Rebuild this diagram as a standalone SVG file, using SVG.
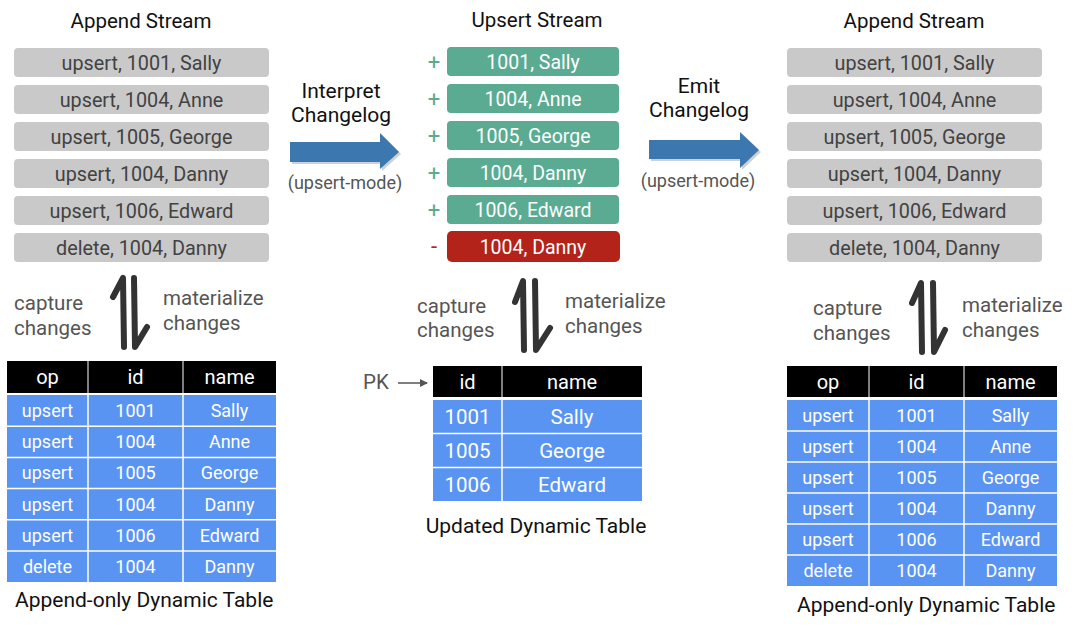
<svg xmlns="http://www.w3.org/2000/svg" width="1080" height="630" viewBox="0 0 1080 630">
<style>
text{font-family:Roboto,"Liberation Sans",sans-serif;}
.title{font-size:20.5px;fill:#111;text-anchor:middle;}
.gbox{fill:#c9c9c9;}
.gtxt{font-size:19.8px;fill:#424242;text-anchor:middle;}
.grn{fill:#5aab91;}
.red{fill:#b3231a;}
.wtxt{font-size:19.5px;fill:#fff;text-anchor:middle;}
.sign{font-size:22px;fill:#5aab91;text-anchor:middle;}
.lbl{font-size:21px;fill:#111;text-anchor:middle;}
.mode{font-size:18px;fill:#555;text-anchor:middle;}
.note{font-size:20.5px;fill:#555;}
.harp{fill:none;stroke:#333;stroke-width:6;stroke-linecap:round;stroke-linejoin:round;}
.hdr{fill:#000;}
.row{fill:#5a94f2;}
.div{stroke:#fff;stroke-width:1.5;}
.hdiv{stroke:#aaa;stroke-width:1.5;}
.htxt{font-size:20px;fill:#fff;text-anchor:middle;}
.ttxt{font-size:18px;fill:#fff;text-anchor:middle;}
.mtxt{font-size:20.5px;fill:#fff;text-anchor:middle;}
.cap{font-size:21px;fill:#111;}
.big{fill:#3d77b0;}
.shadow{fill:#9aa4b0;opacity:0.5;}
</style>
<defs>
<marker id="pkArrow" markerWidth="8" markerHeight="8" refX="7" refY="4" orient="auto" markerUnits="userSpaceOnUse">
<path d="M0,0 L8,4 L0,8 z" fill="#555"/>
</marker>
</defs>
<rect width="1080" height="630" fill="#fff"/>

<g id="left-stream">
<text class="title" x="141" y="28">Append Stream</text>
<rect class="gbox" x="14" y="48" width="255" height="29" rx="4"/>
<text class="gtxt" x="141.5" y="69.5">upsert, 1001, Sally</text>
<rect class="gbox" x="14" y="85" width="255" height="29" rx="4"/>
<text class="gtxt" x="141.5" y="106.5">upsert, 1004, Anne</text>
<rect class="gbox" x="14" y="122" width="255" height="29" rx="4"/>
<text class="gtxt" x="141.5" y="143.5">upsert, 1005, George</text>
<rect class="gbox" x="14" y="159" width="255" height="29" rx="4"/>
<text class="gtxt" x="141.5" y="180.5">upsert, 1004, Danny</text>
<rect class="gbox" x="14" y="196" width="255" height="29" rx="4"/>
<text class="gtxt" x="141.5" y="217.5">upsert, 1006, Edward</text>
<rect class="gbox" x="14" y="233" width="255" height="29" rx="4"/>
<text class="gtxt" x="141.5" y="254.5">delete, 1004, Danny</text>
</g>

<g id="upsert-stream">
<text class="title" x="537" y="27">Upsert Stream</text>
<text class="sign" x="434" y="70">+</text>
<rect class="grn" x="447" y="47" width="172" height="29" rx="4"/>
<text class="wtxt" x="533" y="69">1001, Sally</text>
<text class="sign" x="434" y="107">+</text>
<rect class="grn" x="447" y="84" width="172" height="29" rx="4"/>
<text class="wtxt" x="533" y="106">1004, Anne</text>
<text class="sign" x="434" y="144">+</text>
<rect class="grn" x="447" y="121" width="172" height="29" rx="4"/>
<text class="wtxt" x="533" y="143">1005, George</text>
<text class="sign" x="434" y="181">+</text>
<rect class="grn" x="447" y="158" width="172" height="29" rx="4"/>
<text class="wtxt" x="533" y="180">1004, Danny</text>
<text class="sign" x="434" y="218">+</text>
<rect class="grn" x="447" y="195" width="172" height="29" rx="4"/>
<text class="wtxt" x="533" y="217">1006, Edward</text>
<text class="sign" x="434" y="254" style="fill:#b3231a">-</text>
<rect class="red" x="447" y="231" width="173" height="31" rx="5"/>
<text class="wtxt" x="533" y="254">1004, Danny</text>
</g>

<g id="right-stream">
<text class="title" x="914" y="28">Append Stream</text>
<rect class="gbox" x="787" y="48" width="255" height="29" rx="4"/>
<text class="gtxt" x="914.5" y="69.5">upsert, 1001, Sally</text>
<rect class="gbox" x="787" y="85" width="255" height="29" rx="4"/>
<text class="gtxt" x="914.5" y="106.5">upsert, 1004, Anne</text>
<rect class="gbox" x="787" y="122" width="255" height="29" rx="4"/>
<text class="gtxt" x="914.5" y="143.5">upsert, 1005, George</text>
<rect class="gbox" x="787" y="159" width="255" height="29" rx="4"/>
<text class="gtxt" x="914.5" y="180.5">upsert, 1004, Danny</text>
<rect class="gbox" x="787" y="196" width="255" height="29" rx="4"/>
<text class="gtxt" x="914.5" y="217.5">upsert, 1006, Edward</text>
<rect class="gbox" x="787" y="233" width="255" height="29" rx="4"/>
<text class="gtxt" x="914.5" y="254.5">delete, 1004, Danny</text>
</g>

<g id="connectors">
<g id="interpret-arrow">
<path class="shadow" d="M292,144 L382,144 L382,135 L401,154 L382,171 L382,164 L292,164 z"/>
<path class="big" d="M290,142 L380,142 L380,133 L399,152 L380,169 L380,162 L290,162 z"/>
<text class="lbl" x="341" y="98">Interpret</text>
<text class="lbl" x="341" y="122">Changelog</text>
<text class="mode" x="345" y="189">(upsert-mode)</text>
</g>
<g id="emit-arrow">
<path class="shadow" d="M651,142 L742,142 L742,134 L761,152 L742,170 L742,161 L651,161 z"/>
<path class="big" d="M649,140 L740,140 L740,132 L759,150 L740,168 L740,159 L649,159 z"/>
<text class="lbl" x="699" y="93">Emit</text>
<text class="lbl" x="699" y="117">Changelog</text>
<text class="mode" x="698" y="187">(upsert-mode)</text>
</g>
<g id="left-harpoons">
<path class="harp" d="M113,297 L123,278 L124,347"/>
<path class="harp" d="M134,278 L135,347 L147,327"/>
<text class="note" x="14" y="310">capture</text>
<text class="note" x="14" y="335">changes</text>
<text class="note" x="163" y="305">materialize</text>
<text class="note" x="163" y="330">changes</text>
</g>
<g id="mid-harpoons">
<path class="harp" d="M515,302 L523,281 L524,350"/>
<path class="harp" d="M535,281 L536,350 L550,328"/>
<text class="note" x="417" y="313">capture</text>
<text class="note" x="417" y="337">changes</text>
<text class="note" x="565" y="308">materialize</text>
<text class="note" x="565" y="333">changes</text>
</g>
<g id="right-harpoons">
<path class="harp" d="M912,303 L921,283 L922,352"/>
<path class="harp" d="M933,283 L934,352 L945,330"/>
<text class="note" x="813" y="315">capture</text>
<text class="note" x="813" y="340">changes</text>
<text class="note" x="962" y="312">materialize</text>
<text class="note" x="962" y="337">changes</text>
</g>
<g id="pk-arrow">
<text class="note" x="363" y="389">PK</text>
<line x1="398" y1="383" x2="427" y2="383" stroke="#555" stroke-width="1.5" marker-end="url(#pkArrow)"/>
</g>
</g>

<g id="left-table">
<rect class="hdr" x="7" y="361" width="269" height="32"/>
<line class="hdiv" x1="88" y1="361" x2="88" y2="393"/>
<line class="hdiv" x1="183" y1="361" x2="183" y2="393"/>
<text class="htxt" x="47.5" y="384">op</text>
<text class="htxt" x="135.5" y="384">id</text>
<text class="htxt" x="229.5" y="384">name</text>
<rect class="row" x="7" y="395" width="269" height="187"/>
<line class="div" x1="7" y1="426.2" x2="276" y2="426.2"/>
<line class="div" x1="7" y1="457.4" x2="276" y2="457.4"/>
<line class="div" x1="7" y1="488.6" x2="276" y2="488.6"/>
<line class="div" x1="7" y1="519.8" x2="276" y2="519.8"/>
<line class="div" x1="7" y1="551" x2="276" y2="551"/>
<line class="div" x1="88" y1="395" x2="88" y2="582"/>
<line class="div" x1="183" y1="395" x2="183" y2="582"/>
<text class="ttxt" x="47.5" y="417">upsert</text><text class="ttxt" x="135.5" y="417">1001</text><text class="ttxt" x="229.5" y="417">Sally</text>
<text class="ttxt" x="47.5" y="448.2">upsert</text><text class="ttxt" x="135.5" y="448.2">1004</text><text class="ttxt" x="229.5" y="448.2">Anne</text>
<text class="ttxt" x="47.5" y="479.4">upsert</text><text class="ttxt" x="135.5" y="479.4">1005</text><text class="ttxt" x="229.5" y="479.4">George</text>
<text class="ttxt" x="47.5" y="510.6">upsert</text><text class="ttxt" x="135.5" y="510.6">1004</text><text class="ttxt" x="229.5" y="510.6">Danny</text>
<text class="ttxt" x="47.5" y="541.8">upsert</text><text class="ttxt" x="135.5" y="541.8">1006</text><text class="ttxt" x="229.5" y="541.8">Edward</text>
<text class="ttxt" x="47.5" y="573">delete</text><text class="ttxt" x="135.5" y="573">1004</text><text class="ttxt" x="229.5" y="573">Danny</text>
<text class="cap" x="15" y="607">Append-only Dynamic Table</text>
</g>

<g id="updated-table">
<rect class="hdr" x="433" y="366" width="209" height="31"/>
<line class="hdiv" x1="502" y1="366" x2="502" y2="397"/>
<text class="htxt" x="467.5" y="389">id</text>
<text class="htxt" x="572" y="389">name</text>
<rect class="row" x="433" y="400" width="209" height="101"/>
<line class="div" x1="433" y1="433.5" x2="642" y2="433.5"/>
<line class="div" x1="433" y1="467.5" x2="642" y2="467.5"/>
<line class="div" x1="502" y1="400" x2="502" y2="501"/>
<text class="mtxt" x="467.5" y="424">1001</text><text class="mtxt" x="572" y="424">Sally</text>
<text class="mtxt" x="467.5" y="458">1005</text><text class="mtxt" x="572" y="458">George</text>
<text class="mtxt" x="467.5" y="492">1006</text><text class="mtxt" x="572" y="492">Edward</text>
<text class="cap" x="536" y="533" text-anchor="middle">Updated Dynamic Table</text>
</g>

<g id="right-table">
<rect class="hdr" x="787" y="366" width="270" height="31"/>
<line class="hdiv" x1="869" y1="366" x2="869" y2="397"/>
<line class="hdiv" x1="964" y1="366" x2="964" y2="397"/>
<text class="htxt" x="828" y="389">op</text>
<text class="htxt" x="916.5" y="389">id</text>
<text class="htxt" x="1010.5" y="389">name</text>
<rect class="row" x="787" y="400" width="270" height="186"/>
<line class="div" x1="787" y1="431" x2="1057" y2="431"/>
<line class="div" x1="787" y1="462" x2="1057" y2="462"/>
<line class="div" x1="787" y1="493" x2="1057" y2="493"/>
<line class="div" x1="787" y1="524" x2="1057" y2="524"/>
<line class="div" x1="787" y1="555" x2="1057" y2="555"/>
<line class="div" x1="869" y1="400" x2="869" y2="586"/>
<line class="div" x1="964" y1="400" x2="964" y2="586"/>
<text class="ttxt" x="828" y="422">upsert</text><text class="ttxt" x="916.5" y="422">1001</text><text class="ttxt" x="1010.5" y="422">Sally</text>
<text class="ttxt" x="828" y="453">upsert</text><text class="ttxt" x="916.5" y="453">1004</text><text class="ttxt" x="1010.5" y="453">Anne</text>
<text class="ttxt" x="828" y="484">upsert</text><text class="ttxt" x="916.5" y="484">1005</text><text class="ttxt" x="1010.5" y="484">George</text>
<text class="ttxt" x="828" y="515">upsert</text><text class="ttxt" x="916.5" y="515">1004</text><text class="ttxt" x="1010.5" y="515">Danny</text>
<text class="ttxt" x="828" y="546">upsert</text><text class="ttxt" x="916.5" y="546">1006</text><text class="ttxt" x="1010.5" y="546">Edward</text>
<text class="ttxt" x="828" y="577">delete</text><text class="ttxt" x="916.5" y="577">1004</text><text class="ttxt" x="1010.5" y="577">Danny</text>
<text class="cap" x="797" y="612">Append-only Dynamic Table</text>
</g>
</svg>
